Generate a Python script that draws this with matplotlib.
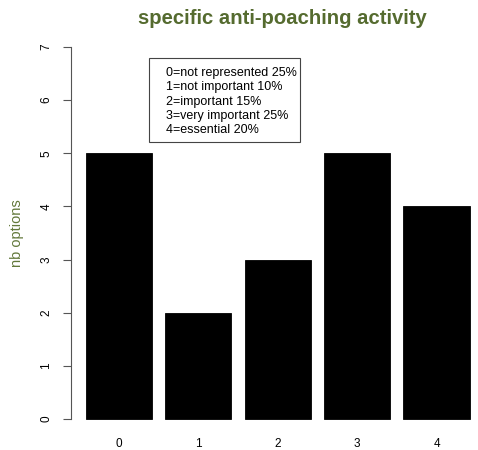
import matplotlib.pyplot as plt
from matplotlib.patches import Rectangle

plt.rcParams['font.family'] = ['Liberation Sans', 'DejaVu Sans']

# data
categories = ['0', '1', '2', '3', '4']
counts = [5, 2, 3, 5, 4]
legend_lines = ['0=not represented 25%', '1=not important 10%', '2=important 15%',
                '3=very important 25%', '4=essential 20%']
yticks = [0, 1, 2, 3, 4, 5, 6, 7]

olive = '#556B2F'
W, H = 478, 450

fig = plt.figure(figsize=(4.78, 4.5), dpi=100)
ax = fig.add_axes([70.6 / W, 16 / H, (485 - 70.6) / W, (418 - 16) / H])

# R barplot layout: width 1, space 0.2
centers = [0.2 + 0.5 + i * 1.2 for i in range(len(counts))]
ax.bar(centers, counts, width=1.0, color='black', edgecolor='black', linewidth=0.6)

span = centers[-1] + 0.5 - 0.2
ax.set_xlim(0.2 - 0.04 * span, centers[-1] + 0.5 + 0.04 * span)
ax.set_ylim(-0.28, 7.28)

for s in ['top', 'right', 'bottom']:
    ax.spines[s].set_visible(False)
ax.spines['left'].set_bounds(0, 7)
ax.spines['left'].set_color('#555555')
ax.spines['left'].set_linewidth(0.8)

ax.set_yticks(yticks)
ax.set_yticklabels([str(t) for t in yticks], rotation=90, va='center', fontsize=8.5)
ax.tick_params(axis='y', length=6, width=0.8, color='#555555', pad=7)
ax.set_xticks(centers)
ax.set_xticklabels(categories, fontsize=8.5)
ax.tick_params(axis='x', length=0, pad=3)

ax.set_ylabel('nb options', color='#62783a', fontsize=10.5)
ax.yaxis.set_label_coords((24 - 70.6) / (485 - 70.6), 0.5)
fig.text(282 / W, 1 - 18 / H, 'specific anti-poaching activity', color=olive,
         fontsize=14.6, fontweight='bold', ha='center', va='center')

# legend box
fig.patches.append(Rectangle((149 / W, 1 - 142 / H), 151 / W, 84 / H, transform=fig.transFigure,
                             facecolor='white', edgecolor='#444444', linewidth=0.8, zorder=5))
for i, line in enumerate(legend_lines):
    fig.text(166 / W, 1 - (73 + i * 14.3) / H, line, fontsize=9, ha='left', va='center', zorder=6)

fig.savefig('out.png', dpi=100)
